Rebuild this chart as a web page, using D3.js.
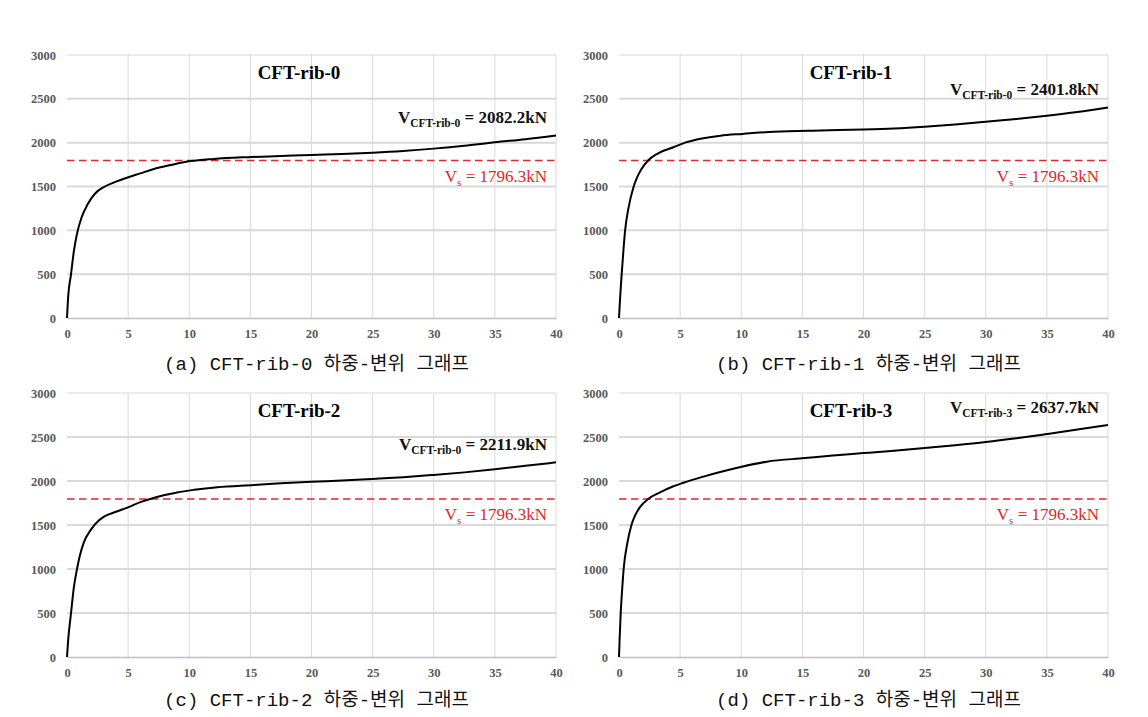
<!DOCTYPE html>
<html><head><meta charset="utf-8">
<script src="https://cdn.jsdelivr.net/npm/d3@7"></script>
<style>
html,body{margin:0;padding:0;background:#fff;}
svg{display:block;}
.serif{font-family:"Liberation Serif","DejaVu Serif",serif;}
.cap{font-family:"Liberation Mono","Noto Sans CJK KR",monospace;}
</style></head>
<body>
<svg id="chart" width="1148" height="717"></svg>
<script>
// ---- data ----
const xTicks = [0,5,10,15,20,25,30,35,40];
const yTicks = [0,500,1000,1500,2000,2500,3000];
const titles = ["CFT-rib-0","CFT-rib-1","CFT-rib-2","CFT-rib-3"];
const captions = ["(a) CFT-rib-0 하중-변위 그래프","(b) CFT-rib-1 하중-변위 그래프","(c) CFT-rib-2 하중-변위 그래프","(d) CFT-rib-3 하중-변위 그래프"];
const ultSubs = ["CFT-rib-0","CFT-rib-0","CFT-rib-0","CFT-rib-3"];
const ultValues = ["2082.2kN","2401.8kN","2211.9kN","2637.7kN"];
const vsValue = 1796.3;
const vsLabel = "1796.3kN";

const dispA = [0,0.1,0.33,0.55,0.8,1.2,1.7,2.3,3.1,4.0,4.9,6.0,7.1,8.5,10.1,12,14.8,17.5,20,22.5,25,27.5,30,32.5,35,37.5,40];
const loadA = [0,250,500,750,950,1150,1300,1420,1500,1555,1600,1650,1700,1745,1790,1815,1835,1848,1860,1870,1885,1905,1932,1965,2005,2040,2082.2];

const dispB = [0,0.1,0.22,0.35,0.5,0.77,1.2,1.5,1.84,2.4,3.1,4.5,5.4,6.9,8.3,10.1,12.7,16.5,20,22.5,25,27.5,30,32.5,35,37.5,40];
const loadB = [0,250,500,750,1000,1250,1500,1610,1700,1800,1870,1950,2000,2050,2080,2100,2125,2140,2150,2162,2182,2208,2238,2270,2307,2350,2401.8];

const dispC = [0,0.1,0.33,0.55,0.82,1.05,1.37,1.97,2.6,3.1,4,5,6,6.8,8,9,10.4,12.3,15.3,17.5,20,22.5,25,27.5,30,32.5,35,37.5,40];
const loadC = [0,200,500,780,1000,1150,1300,1450,1550,1600,1650,1700,1760,1796,1840,1870,1900,1930,1955,1975,1992,2005,2023,2043,2069,2098,2133,2172,2211.9];

const dispD = [0,0.05,0.14,0.25,0.38,0.69,1.02,1.29,1.7,2.39,3.35,4.45,5.27,6.9,8.2,9.95,12.1,15.2,17.5,20,22.5,25,27.5,30,32.5,35,37.5,40];
const loadD = [0,200,500,750,1000,1300,1500,1600,1700,1796,1870,1940,1980,2050,2100,2160,2220,2260,2290,2317,2345,2375,2407,2443,2486,2534,2584,2637.7];

const seriesX = [dispA,dispB,dispC,dispD];
const seriesY = [loadA,loadB,loadC,loadD];

// ---- layout ----
const panels = [
  {x0:67,  x1:556,  y0:55,  y1:318, cap:370},
  {x0:619, x1:1108, y0:55,  y1:318, cap:370},
  {x0:67,  x1:556,  y0:393, y1:657, cap:706},
  {x0:619, x1:1108, y0:393, y1:657, cap:706}
];

const svg = d3.select("#chart");
const red = "#e0262b";

panels.forEach((p,i)=>{
  const x = d3.scaleLinear().domain([0,40]).range([p.x0,p.x1]);
  const y = d3.scaleLinear().domain([0,3000]).range([p.y1,p.y0]);
  const g = svg.append("g");

  // vertical gridlines
  g.append("g").selectAll("line").data(xTicks.filter(d=>d>0)).join("line")
    .attr("x1",d=>x(d)).attr("x2",d=>x(d)).attr("y1",p.y0).attr("y2",p.y1)
    .attr("stroke","#d9d9d9").attr("stroke-width",1);
  // horizontal gridlines
  g.append("g").selectAll("line").data(yTicks.filter(d=>d>0)).join("line")
    .attr("x1",p.x0).attr("x2",p.x1).attr("y1",d=>y(d)).attr("y2",d=>y(d))
    .attr("stroke","#d9d9d9").attr("stroke-width",d=>d===3000?1.2:2);

  // x axis
  const xa = g.append("g").attr("transform",`translate(0,${p.y1})`)
    .call(d3.axisBottom(x).tickValues(xTicks).tickSize(0).tickPadding(11).tickFormat(d3.format("d")));
  xa.attr("font-family",null);
  xa.select(".domain").attr("stroke","#bfbfbf").attr("stroke-width",1.3);
  xa.selectAll("text").attr("class","serif").attr("font-weight","bold")
    .attr("font-size","12.5px").attr("fill","#595959");
  // y axis
  const ya = g.append("g").attr("transform",`translate(${p.x0},0)`)
    .call(d3.axisLeft(y).tickValues(yTicks).tickSize(0).tickPadding(11).tickFormat(d3.format("d")));
  ya.attr("font-family",null);
  ya.select(".domain").remove();
  ya.selectAll("text").attr("class","serif").attr("font-weight","bold")
    .attr("font-size","12.5px").attr("fill","#595959");

  // Vs dashed line
  g.append("line").attr("x1",p.x0).attr("x2",p.x1)
    .attr("y1",y(vsValue)).attr("y2",y(vsValue))
    .attr("stroke",red).attr("stroke-width",1.5).attr("stroke-dasharray","7.5,4.5");

  // curve
  const data = seriesX[i].map((d,k)=>[d,seriesY[i][k]]);
  g.append("path").datum(data)
    .attr("d",d3.line().x(d=>x(d[0])).y(d=>y(d[1])).curve(d3.curveMonotoneX))
    .attr("fill","none").attr("stroke","#000").attr("stroke-width",2);

  // title
  g.append("text").attr("class","serif").attr("x",p.x0+232).attr("y",p.y0+23.5)
    .attr("text-anchor","middle").attr("font-weight","bold")
    .attr("font-size","19px").attr("fill","#000").text(titles[i]);

  // ultimate annotation
  const ultY = y(+ultValues[i].replace("kN","")) - 12;
  const t = g.append("text").attr("class","serif").attr("x",p.x1-9).attr("y",ultY)
    .attr("text-anchor","end").attr("font-weight","bold")
    .attr("font-size","17px").attr("fill","#111");
  t.append("tspan").text("V");
  t.append("tspan").attr("font-size","11.5px").attr("dy",4).text(ultSubs[i]);
  t.append("tspan").attr("dy",-4).text(" = "+ultValues[i]);

  // Vs annotation
  const v = g.append("text").attr("class","serif").attr("x",p.x1-9).attr("y",y(vsValue)+21.5)
    .attr("text-anchor","end")
    .attr("font-size","17px").attr("fill",red);
  v.append("tspan").text("V");
  v.append("tspan").attr("font-size","11px").attr("dy",4).text("s");
  v.append("tspan").attr("dy",-4).text(" = "+vsLabel);

  // caption
  svg.append("text").attr("class","cap").attr("x",(p.x0+p.x1)/2+5).attr("y",p.cap)
    .attr("text-anchor","middle")
    .attr("font-size","19px").attr("fill","#111").text(captions[i]);
});
</script>
</body></html>
